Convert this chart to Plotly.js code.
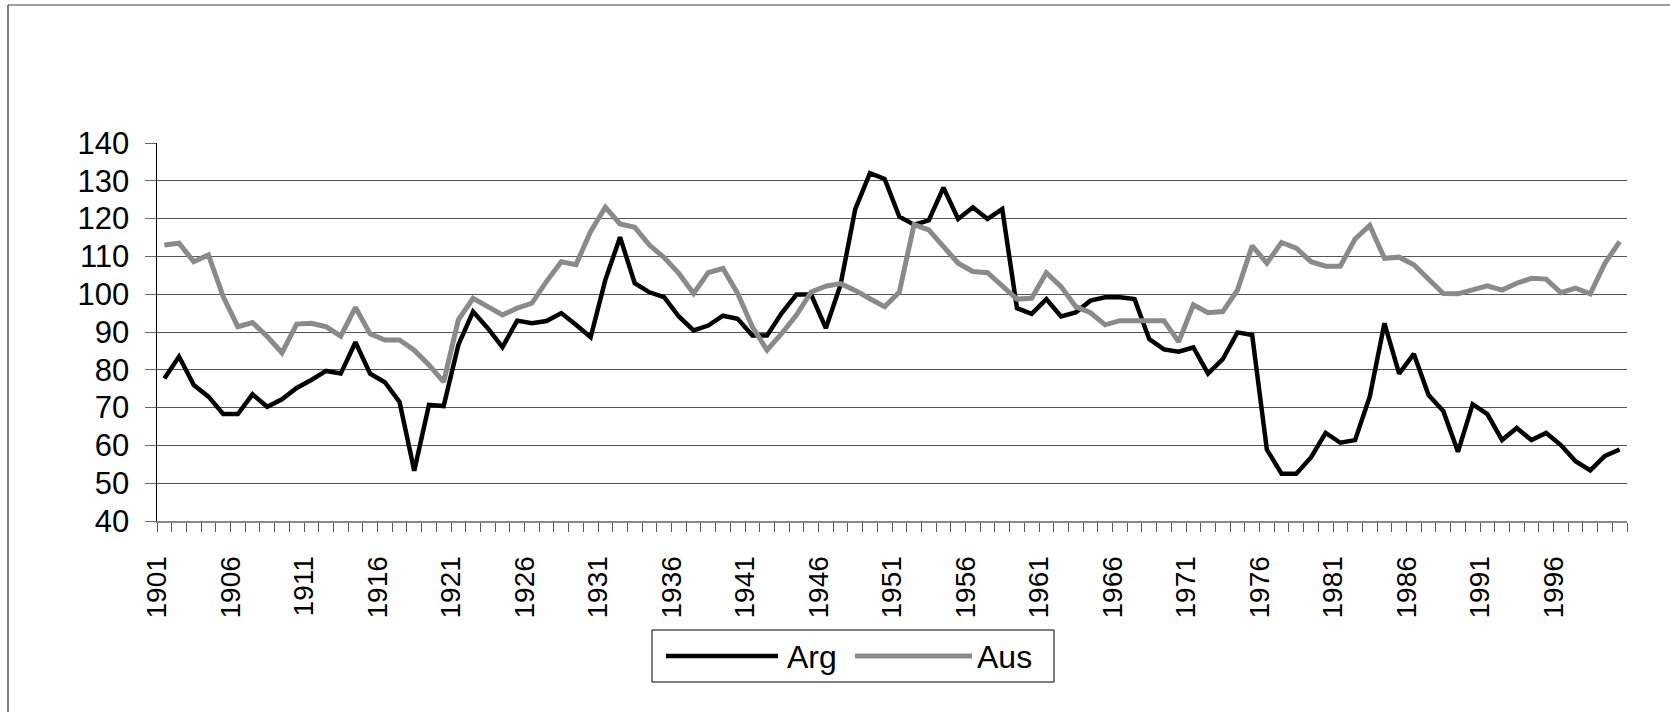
<!DOCTYPE html>
<html>
<head>
<meta charset="utf-8">
<script src="https://cdn.plot.ly/plotly-3.0.1.min.js"></script>
<style>html,body{margin:0;padding:0;background:#fff;}#chart{width:1670px;height:712px;}</style>
</head>
<body>
<div id="chart"></div>
<script>
const years = Array.from({length: 100}, (_, i) => 1901 + i);
const seriesNames = ["Arg", "Aus"];
const arg = [
  77.7, 83.5, 76.0, 72.9, 68.3, 68.3, 73.5, 70.2, 72.2, 75.2,
  77.3, 79.7, 79.0, 87.3, 79.0, 76.7, 71.5, 53.3, 70.7, 70.4,
  86.6, 95.4, 91.0, 86.0, 93.0, 92.3, 92.9, 95.0, 91.9, 88.6,
  103.8, 115.1, 102.9, 100.5, 99.2, 94.1, 90.4, 91.7, 94.3, 93.5,
  89.1, 89.1, 95.0, 99.9, 99.9, 91.0, 102.5, 122.5, 132.0, 130.5,
  120.5, 118.4, 119.5, 128.2, 119.9, 123.0, 119.9, 122.5, 96.3, 94.8,
  98.7, 94.1, 95.2, 98.3, 99.2, 99.2, 98.7, 88.1, 85.4, 84.8,
  85.9, 79.0, 82.8, 89.9, 89.2, 58.9, 52.5, 52.5, 56.8, 63.3,
  60.7, 61.4, 72.9, 92.3, 79.0, 84.2, 73.3, 69.1, 58.3, 70.9,
  68.3, 61.4, 64.6, 61.4, 63.3, 60.1, 55.8, 53.4, 57.2, 58.9
];
const aus = [
  113.0, 113.5, 108.6, 110.4, 99.4, 91.4, 92.5, 88.8, 84.5, 92.1,
  92.3, 91.4, 88.9, 96.5, 89.5, 87.9, 87.9, 85.2, 81.3, 76.8,
  93.2, 98.9, 96.7, 94.5, 96.3, 97.6, 103.4, 108.6, 107.8, 116.6,
  123.0, 118.6, 117.7, 113.0, 109.7, 105.5, 100.2, 105.7, 106.8, 100.2,
  91.4, 85.2, 89.6, 94.5, 100.6, 102.1, 102.8, 101.0, 98.8, 96.7,
  100.6, 118.4, 117.0, 112.6, 108.2, 106.0, 105.7, 102.2, 98.7, 98.9,
  105.7, 102.0, 96.7, 95.1, 91.9, 93.0, 93.0, 93.0, 93.0, 87.4,
  97.2, 95.1, 95.4, 101.1, 112.8, 108.2, 113.7, 112.2, 108.6, 107.4,
  107.4, 114.6, 118.2, 109.5, 109.8, 107.8, 104.2, 100.2, 100.1, 101.3,
  102.2, 101.1, 102.9, 104.2, 104.0, 100.4, 101.6, 100.1, 108.2, 113.9
];
const labelYears = years.filter((y, i) => i % 5 === 0 && y < 2000);

const W = 1670, H = 712;
const M = {l: 157, r: 43, t: 143, b: 191};
const PW = W - M.l - M.r, PH = H - M.t - M.b;
const px = x => (x - M.l) / PW;
const py = y => 1 - (y - M.t) / PH;

const FONT = "Liberation Sans, Arial, sans-serif";

const traces = [
  {x: years, y: arg, type: "scatter", mode: "lines", name: seriesNames[0],
   line: {color: "#000000", width: 4.5}, showlegend: false},
  {x: years, y: aus, type: "scatter", mode: "lines", name: seriesNames[1],
   line: {color: "#8a8a8a", width: 5}, showlegend: false}
];

const shapes = [
  {type: "line", xref: "paper", yref: "paper", x0: px(8), x1: px(1680), y0: py(5), y1: py(5), line: {color: "#808080", width: 1.5}},
  {type: "line", xref: "paper", yref: "paper", x0: px(8), x1: px(8), y0: py(5), y1: py(720), line: {color: "#555555", width: 1.5}},
  {type: "rect", xref: "paper", yref: "paper", x0: px(652), x1: px(1054), y0: py(630), y1: py(682), line: {color: "#000000", width: 1}, fillcolor: "rgba(0,0,0,0)"},
  {type: "line", xref: "paper", yref: "paper", x0: px(666), x1: px(778), y0: py(656), y1: py(656), line: {color: "#000000", width: 4.5}},
  {type: "line", xref: "paper", yref: "paper", x0: px(855), x1: px(972), y0: py(656), y1: py(656), line: {color: "#8a8a8a", width: 5}}
];

const annotations = [
  {xref: "paper", yref: "paper", x: px(785), y: py(657), xanchor: "left", yanchor: "middle", showarrow: false,
   text: seriesNames[0], font: {family: FONT, size: 32, color: "#000"}},
  {xref: "paper", yref: "paper", x: px(975), y: py(657), xanchor: "left", yanchor: "middle", showarrow: false,
   text: seriesNames[1], font: {family: FONT, size: 32, color: "#000"}}
];

const layout = {
  width: W, height: H, autosize: false,
  margin: M,
  paper_bgcolor: "#ffffff", plot_bgcolor: "#ffffff",
  showlegend: false,
  font: {family: FONT, color: "#000"},
  xaxis: {
    range: [1900.5, 2000.5],
    tickmode: "array",
    tickvals: labelYears.map(y => y - 0.5),
    ticktext: labelYears.map(String),
    tickangle: -90,
    ticks: "outside", ticklen: 9, tickwidth: 1, tickcolor: "#555",
    minor: {tickmode: "linear", tick0: 1900.5, dtick: 1, ticks: "outside", ticklen: 9, tickwidth: 1, tickcolor: "#555", showgrid: false},
    tickfont: {family: FONT, size: 28, color: "#000"},
    ticklabelstandoff: 13,
    showgrid: false, zeroline: false,
    showline: true, linecolor: "#888", linewidth: 2
  },
  yaxis: {
    range: [40, 140],
    tickmode: "linear", tick0: 40, dtick: 10,
    ticks: "outside", ticklen: 11, tickwidth: 1, tickcolor: "#666",
    tickfont: {family: FONT, size: 31, color: "#000"},
    ticklabelstandoff: 9,
    showgrid: true, gridcolor: "#555", gridwidth: 1,
    zeroline: false,
    showline: true, linecolor: "#000", linewidth: 1.5
  },
  shapes: shapes,
  annotations: annotations
};

Plotly.newPlot("chart", traces, layout, {displayModeBar: false, staticPlot: true});
</script>
</body>
</html>
